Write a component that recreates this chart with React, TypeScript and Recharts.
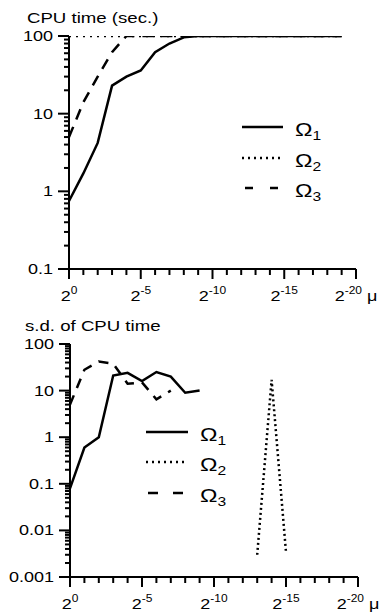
import { Legend, Line, LineChart, XAxis, YAxis } from "recharts";

const FONT = '"Liberation Sans", Arial, Helvetica, sans-serif';

// x is the exponent k, mu = 2^-k
const exponents = [0, 1, 2, 3, 4, 5, 6, 7, 8, 9, 10, 11, 12, 13, 14, 15, 16, 17, 18, 19, 20];
const xMajor = [0, 5, 10, 15, 20];
const xMajorLabels = ["0", "-5", "-10", "-15", "-20"];

// CPU time (sec.)
const cpuOmega1 = [0.75, 1.7, 4.2, 23, 30, 36, 62, 80, 96, 100, 100, 100, 100, 100, 100, 100, 100, 100, 100, 100, null];
const cpuOmega2 = [100, 100, 100, 100, 100, 100, 100, 100, 100, 100, 100, 100, 100, 100, 100, 100, 100, 100, 100, 100, null];
const cpuOmega3 = [5, 14, 30, 62, 100, 100, 100, 100, 100, 100, 100, 100, 100, 100, 100, 100, 100, 100, 100, 100, null];

// s.d. of CPU time
const sdOmega1 = [0.08, 0.6, 1.0, 21, 24, 16, 25, 20, 9, 10, null, null, null, null, null, null, null, null, null, null, null];
const sdOmega2 = [null, null, null, null, null, null, null, null, null, null, null, null, null, 0.003, 17, 0.0034, null, null, null, null, null];
const sdOmega3 = [5, 28, 42, 38, 14, 15, 6.5, 10, null, null, null, null, null, null, null, null, null, null, null, null, null];

const cpuDecades = [0.1, 1, 10, 100];
const cpuDecadeLabels = ["0.1", "1", "10", "100"];
const sdDecades = [0.001, 0.01, 0.1, 1, 10, 100];
const sdDecadeLabels = ["0.001", "0.01", "0.1", "1", "10", "100"];
const minorSteps = [2, 3, 4, 5, 6, 7, 8, 9];

const seriesSubs = ["1", "2", "3"];

function logTicks(decades: number[]) {
  const out: number[] = [];
  decades.forEach((d, i) => {
    out.push(d);
    if (i < decades.length - 1) minorSteps.forEach((m) => out.push(m * d));
  });
  return out;
}

const XTick = (props: any) => {
  const { x, y, payload } = props;
  const k = payload.value;
  const idx = xMajor.indexOf(k);
  const major = idx >= 0;
  return (
    <g>
      <line x1={x} y1={y} x2={x} y2={y + (major ? 10 : 6)} stroke="#000" strokeWidth={2} />
      {major && (
        <text transform={`translate(${x},${y + 32}) scale(1.2,1)`} textAnchor="middle" fontFamily={FONT} fontSize={15} fill="#000">
          2<tspan fontSize={10} dy={-7}>{xMajorLabels[idx]}</tspan>
          {k === 20 && <tspan fontSize={15} dy={7}>{"\u00a0μ"}</tspan>}
        </text>
      )}
    </g>
  );
};

const YTick = (props: any) => {
  const { x, y, payload, decades, labels } = props;
  const idx = decades.indexOf(payload.value);
  const major = idx >= 0;
  return (
    <g>
      <line x1={x - (major ? 11 : 5)} y1={y} x2={x} y2={y} stroke="#000" strokeWidth={2} />
      {major && (
        <text transform={`translate(${x - 16},${y + 5}) scale(1.2,1)`} textAnchor="end" fontFamily={FONT} fontSize={15} fill="#000">
          {labels[idx]}
        </text>
      )}
    </g>
  );
};

type LegendSpec = { rows: number[]; lineX: number[]; dashX: number[]; dash: string; dot: string; textX: number; h: number };

function OmegaLegend({ spec }: { spec: LegendSpec }) {
  return (
    <svg width={390} height={spec.h} style={{ display: "block" }}>
      {seriesSubs.map((sub, i) => {
        const y = spec.rows[i];
        const xr = i === 2 ? spec.dashX : spec.lineX;
        const dash = i === 0 ? undefined : i === 1 ? spec.dot : spec.dash;
        return (
          <g key={sub}>
            <line x1={xr[0]} x2={xr[1]} y1={y} y2={y} stroke="#000" strokeWidth={2.5} strokeDasharray={dash} />
            <text transform={`translate(${spec.textX},${y + 9}) scale(1.3,1)`} fontFamily={FONT} fontSize={18} fill="#000">
              Ω<tspan fontSize={12} dy={4}>{sub}</tspan>
            </text>
          </g>
        );
      })}
    </svg>
  );
}

function Panel(props: {
  height: number;
  margin: { top: number; right: number; bottom: number; left: number };
  decades: number[];
  labels: string[];
  o1: (number | null)[];
  o2: (number | null)[];
  o3: (number | null)[];
  dot: string;
  dash: string;
  legend: LegendSpec;
}) {
  const data = exponents.map((k, i) => ({ k, o1: props.o1[i], o2: props.o2[i], o3: props.o3[i] }));
  const d = props.decades;
  return (
    <LineChart width={390} height={props.height} data={data} margin={props.margin}>
      <XAxis
        dataKey="k"
        type="number"
        domain={[0, 20]}
        ticks={exponents}
        interval={0}
        height={30}
        tickSize={0}
        tickMargin={0}
        tickLine={false}
        axisLine={{ stroke: "#000", strokeWidth: 2 }}
        tick={(p: any) => <XTick {...p} />}
      />
      <YAxis
        type="number"
        scale="log"
        domain={[d[0], d[d.length - 1]]}
        allowDataOverflow
        ticks={logTicks(d)}
        interval={0}
        width={60}
        tickSize={0}
        tickMargin={0}
        tickLine={false}
        axisLine={{ stroke: "#000", strokeWidth: 2 }}
        tick={(p: any) => <YTick {...p} decades={props.decades} labels={props.labels} />}
      />
      <Line dataKey="o2" type="linear" stroke="#000" strokeWidth={2.5} strokeDasharray={props.dot} dot={false} isAnimationActive={false} />
      <Line dataKey="o3" type="linear" stroke="#000" strokeWidth={2.5} strokeDasharray={props.dash} dot={false} isAnimationActive={false} />
      <Line dataKey="o1" type="linear" stroke="#000" strokeWidth={2.5} dot={false} isAnimationActive={false} />
      <Legend
        layout="vertical"
        align="center"
        verticalAlign="middle"
        wrapperStyle={{ left: 0, top: 0, width: 390, height: props.legend.h, pointerEvents: "none" }}
        content={() => <OmegaLegend spec={props.legend} />}
      />
    </LineChart>
  );
}

const titleStyle = {
  position: "absolute" as const,
  fontFamily: FONT,
  fontSize: 14,
  lineHeight: "14px",
  whiteSpace: "nowrap" as const,
  transform: "scaleX(1.33)",
  transformOrigin: "0 0",
  color: "#000",
};

export default function App() {
  return (
    <div style={{ position: "absolute", left: 0, top: 0, width: 390, height: 614, background: "#fff", overflow: "hidden" }}>
      <div style={{ position: "absolute", left: 0, top: 0 }}>
        <Panel
          height={310}
          margin={{ top: 36, right: 34, bottom: 11, left: 9 }}
          decades={cpuDecades}
          labels={cpuDecadeLabels}
          o1={cpuOmega1}
          o2={cpuOmega2}
          o3={cpuOmega3}
          dot="2 5"
          dash="11 8"
          legend={{ rows: [127, 158, 188], lineX: [242, 283], dashX: [245, 278], dash: "8 17", dot: "2 4", textX: 295, h: 300 }}
        />
      </div>
      <div style={{ position: "absolute", left: 0, top: 300 }}>
        <Panel
          height={314}
          margin={{ top: 44, right: 32, bottom: 7, left: 10 }}
          decades={sdDecades}
          labels={sdDecadeLabels}
          o1={sdOmega1}
          o2={sdOmega2}
          o3={sdOmega3}
          dot="2 3"
          dash="10 8"
          legend={{ rows: [132, 162, 193], lineX: [146, 188], dashX: [148, 183], dash: "10 15", dot: "2 4", textX: 200, h: 300 }}
        />
      </div>
      <div style={{ ...titleStyle, left: 27, top: 11 }}>CPU time (sec.)</div>
      <div style={{ ...titleStyle, left: 25, top: 319 }}>s.d. of CPU time</div>
    </div>
  );
}
